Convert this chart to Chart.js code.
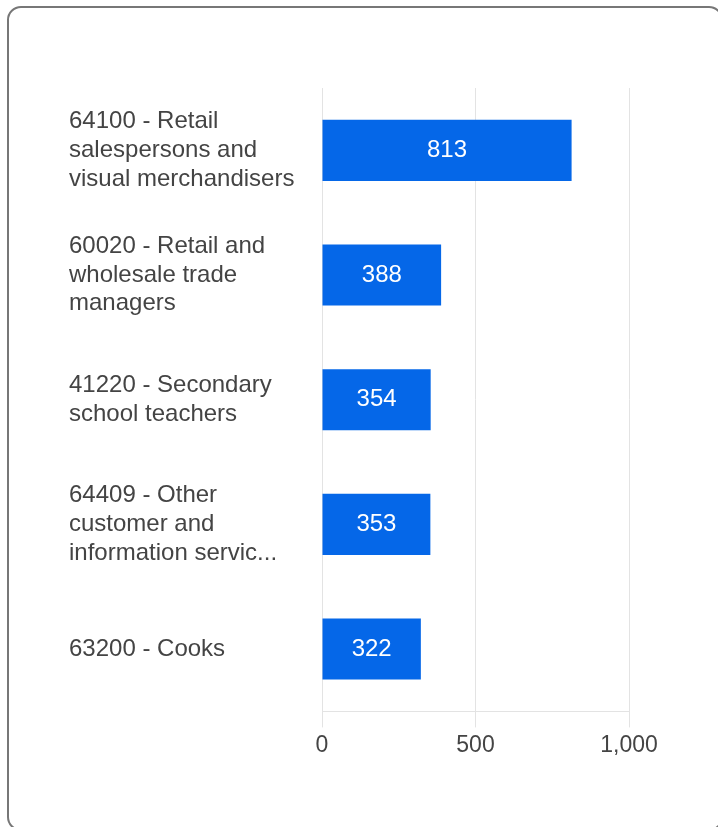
<!DOCTYPE html>
<html>
<head>
<meta charset="utf-8">
<script src="https://cdn.jsdelivr.net/npm/chart.js@4.4.1/dist/chart.umd.min.js"></script>
<style>
  html, body { margin: 0; padding: 0; background: #fff; overflow: hidden; }
  body { width: 718px; height: 827px; position: relative; }
  .card {
    position: absolute; left: 7px; top: 6px; width: 716px; height: 825px;
    border: 2px solid #777; border-radius: 14px; box-sizing: border-box; background: #fff;
  }
  #chart { position: absolute; left: 0; top: 0; }
</style>
</head>
<body>
<div class="card"></div>
<canvas id="chart" width="718" height="827"></canvas>
<script>
const categories = [
  ['64100 - Retail', 'salespersons and', 'visual merchandisers'],
  ['60020 - Retail and', 'wholesale trade', 'managers'],
  ['41220 - Secondary', 'school teachers'],
  ['64409 - Other', 'customer and', 'information servic...'],
  ['63200 - Cooks']
];
const counts = [813, 388, 354, 353, 322];
const xTicks = [0, 500, 1000];

const barColor = '#0567e8';
const gridColor = '#e3e3e3';
const textColor = '#444';

// draws the value in white at the middle of each bar
const valueLabels = {
  id: 'valueLabels',
  afterDatasetsDraw(chart) {
    const ctx = chart.ctx;
    const meta = chart.getDatasetMeta(0);
    ctx.save();
    ctx.fillStyle = '#fff';
    ctx.font = '24px "Liberation Sans", Arial, sans-serif';
    ctx.textAlign = 'center';
    ctx.textBaseline = 'middle';
    meta.data.forEach((bar, i) => {
      const p = bar.getProps(['x', 'y', 'base'], true);
      ctx.fillText(String(counts[i]), (p.x + p.base) / 2, p.y);
    });
    ctx.restore();
  }
};

new Chart(document.getElementById('chart'), {
  type: 'bar',
  data: {
    labels: categories,
    datasets: [{
      data: counts,
      backgroundColor: barColor,
      borderWidth: 0,
      categoryPercentage: 1,
      barPercentage: 0.49
    }]
  },
  options: {
    indexAxis: 'y',
    responsive: false,
    animation: false,
    events: [],
    layout: { padding: { left: 69, top: 88, right: 89, bottom: 64 } },
    plugins: { legend: { display: false }, tooltip: { enabled: false } },
    scales: {
      x: {
        min: 0,
        max: 1000,
        afterBuildTicks: s => { s.ticks = xTicks.map(v => ({ value: v })); },
        grid: { color: gridColor, lineWidth: 1, drawTicks: true, tickLength: 16 },
        border: { display: true, color: gridColor },
        ticks: {
          color: textColor,
          padding: 4,
          font: { family: '"Liberation Sans", Arial, sans-serif', size: 23 },
          maxRotation: 0
        }
      },
      y: {
        grid: { display: false },
        border: { display: false },
        afterFit: s => { s.width = 322 - 69; },
        ticks: {
          color: textColor,
          crossAlign: 'far',
          padding: 0,
          font: { family: '"Liberation Sans", Arial, sans-serif', size: 24, lineHeight: 1.2 }
        }
      }
    }
  },
  plugins: [valueLabels]
});
</script>
</body>
</html>
